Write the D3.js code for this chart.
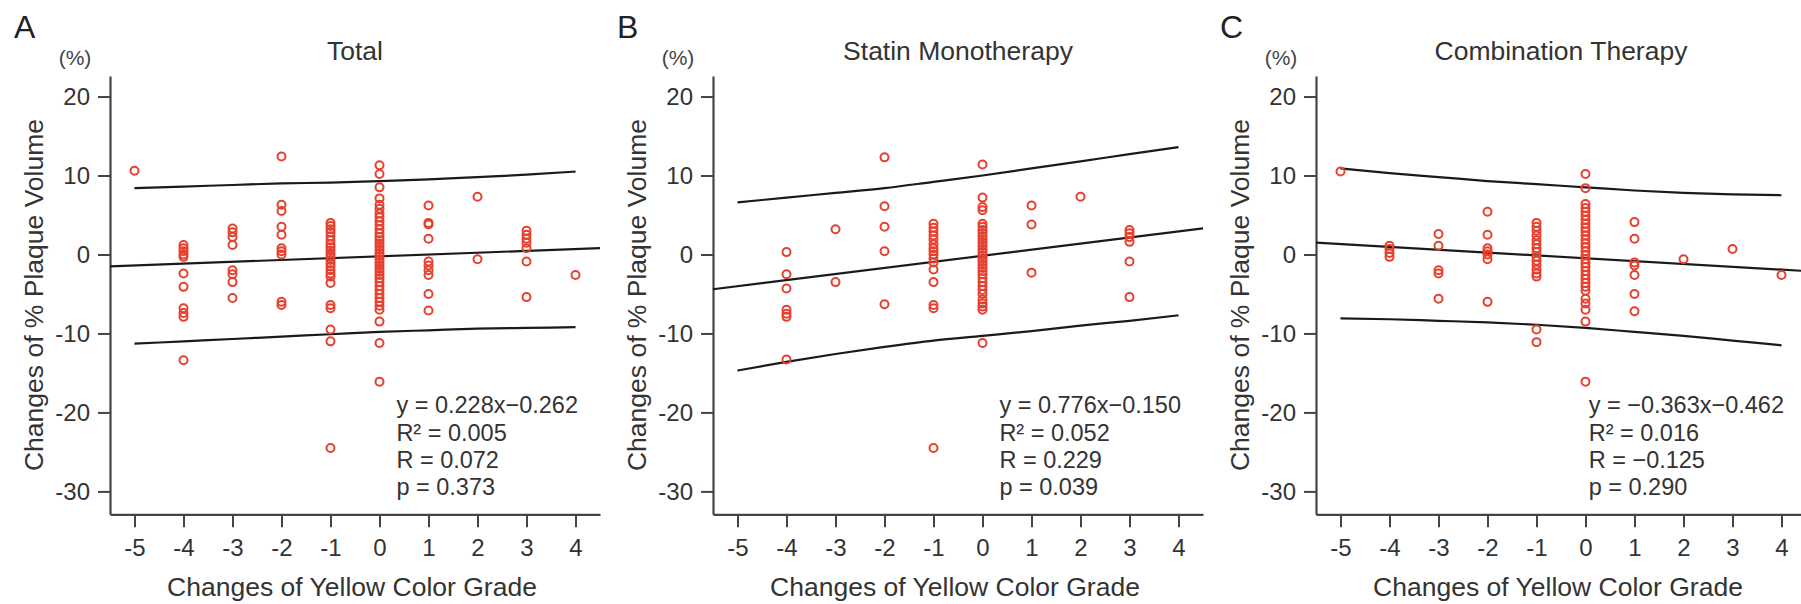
<!DOCTYPE html>
<html>
<head>
<meta charset="utf-8">
<script src="https://cdn.jsdelivr.net/npm/d3@7"></script>
<style>
  body { margin: 0; background: #fff; }
  svg { display: block; font-family: "Liberation Sans", Arial, sans-serif; }
</style>
</head>
<body>
<script>
/* DATA */
const letters = ["A", "B", "C"];
const titles = ["Total", "Statin Monotherapy", "Combination Therapy"];
const xTicks = [-5, -4, -3, -2, -1, 0, 1, 2, 3, 4];
const yTicks = [-30, -20, -10, 0, 10, 20];
const bandGrades = [-5, -4, -3, -2, -1, 0, 1, 2, 3, 4];

// [grade change, list of % plaque volume changes]
const totalPoints = [
  [-5, [10.6]],
  [-4, [1.2, 0.8, 0.4, 0.0, -0.3, -2.4, -4.1, -6.8, -7.4, -7.9, -13.4]],
  [-3, [3.3, 2.8, 2.2, 1.2, -2.0, -2.5, -3.5, -5.5]],
  [-2, [12.4, 6.3, 5.5, 3.5, 2.5, 0.8, 0.4, 0.0, -6.0, -6.4]],
  [-1, [4.0, 3.6, 3.2, 2.8, 2.3, 1.8, 1.3, 0.9, 0.5, 0.1, -0.3, -0.7, -1.1, -1.5, -2.0, -2.4, -2.8, -3.6, -6.4, -6.8, -9.5, -11.0, -24.5]],
  [0, [11.3, 10.2, 8.5, 7.1, 6.3, 5.8, 5.2, 4.7, 4.2, 3.7, 3.2, 2.7, 2.2, 1.8, 1.4, 1.0, 0.6, 0.2, -0.2, -0.6, -1.0, -1.4, -1.8, -2.2, -2.6, -3.0, -3.5, -4.0, -4.5, -5.0, -5.5, -6.0, -6.5, -7.0, -8.5, -11.2, -16.1]],
  [1, [6.2, 4.0, 3.8, 2.0, -0.9, -1.4, -2.0, -2.6, -5.0, -7.1]],
  [2, [7.3, -0.6]],
  [3, [3.0, 2.5, 2.0, 1.5, 0.8, -0.9, -5.4]],
  [4, [-2.6]]
];
const statinPoints = [
  [-4, [0.3, -2.5, -4.3, -7.0, -7.5, -7.9, -13.3]],
  [-3, [3.2, -3.5]],
  [-2, [12.3, 6.1, 3.5, 0.4, -6.3]],
  [-1, [3.9, 3.4, 2.9, 2.4, 1.9, 1.3, 0.8, 0.4, 0.0, -0.5, -1.0, -1.9, -3.5, -6.4, -6.8, -24.5]],
  [0, [11.4, 7.2, 6.0, 5.6, 3.9, 3.5, 3.1, 2.7, 2.3, 1.9, 1.5, 1.1, 0.7, 0.3, -0.1, -0.5, -0.9, -1.3, -1.7, -2.1, -2.5, -3.0, -3.5, -4.0, -4.5, -5.0, -5.7, -6.2, -6.6, -7.0, -11.2]],
  [1, [6.2, 3.8, -2.3]],
  [2, [7.3]],
  [3, [3.1, 2.7, 2.2, 1.6, -0.9, -5.4]]
];
const comboPoints = [
  [-5, [10.5]],
  [-4, [1.1, 0.7, 0.2, -0.3]],
  [-3, [2.6, 1.1, -2.0, -2.4, -5.6]],
  [-2, [5.4, 2.5, 0.8, 0.4, 0.0, -0.6, -6.0]],
  [-1, [4.0, 3.5, 3.0, 2.4, 1.8, 1.3, 0.8, 0.3, -0.3, -0.8, -1.3, -1.9, -2.4, -2.8, -9.5, -11.1]],
  [0, [10.2, 8.4, 6.4, 5.9, 5.4, 4.9, 4.4, 3.9, 3.4, 2.9, 2.4, 1.9, 1.4, 0.9, 0.4, -0.1, -0.6, -1.1, -1.6, -2.1, -2.6, -3.1, -3.6, -4.1, -4.6, -5.6, -6.2, -7.0, -8.5, -16.1]],
  [1, [4.1, 2.0, -1.0, -1.4, -2.6, -5.0, -7.2]],
  [2, [-0.6]],
  [3, [0.7]],
  [4, [-2.6]]
];

// regression line end points
const totalFit = [[-5.5, -1.5], [4.5, 0.8]];
const statinFit = [[-5.5, -4.4], [4.5, 3.3]];
const comboFit = [[-5.5, 1.5], [4.5, -2.1]];

// prediction band, one value per grade in bandGrades
const totalUpper = [8.4, 8.6, 8.8, 9.0, 9.1, 9.3, 9.5, 9.8, 10.1, 10.5];
const totalLower = [-11.3, -11.0, -10.7, -10.4, -10.1, -9.8, -9.6, -9.4, -9.3, -9.2];
const statinUpper = [6.6, 7.2, 7.8, 8.4, 9.2, 10.0, 10.9, 11.8, 12.7, 13.6];
const statinLower = [-14.7, -13.6, -12.6, -11.7, -10.9, -10.3, -9.7, -9.0, -8.4, -7.7];
const comboUpper = [10.9, 10.3, 9.8, 9.3, 8.9, 8.5, 8.1, 7.8, 7.6, 7.5];
const comboLower = [-8.1, -8.2, -8.4, -8.6, -8.9, -9.3, -9.8, -10.3, -10.9, -11.5];

const totalStats = ["y = 0.228x\u22120.262", "R\u00b2 = 0.005", "R = 0.072", "p = 0.373"];
const statinStats = ["y = 0.776x\u22120.150", "R\u00b2 = 0.052", "R = 0.229", "p = 0.039"];
const comboStats = ["y = \u22120.363x\u22120.462", "R\u00b2 = 0.016", "R = \u22120.125", "p = 0.290"];

/* LAYOUT */
const width = 1801, height = 604;
const panelStep = 603;
const textColor = "#333";
const axisColor = "#444";
const dotColor = "#e6402f";

const panels = [
  { points: totalPoints, fit: totalFit, upper: totalUpper, lower: totalLower, stats: totalStats },
  { points: statinPoints, fit: statinFit, upper: statinUpper, lower: statinLower, stats: statinStats },
  { points: comboPoints, fit: comboFit, upper: comboUpper, lower: comboLower, stats: comboStats }
];

const xScale = d3.scaleLinear().domain([-5.5, 4.5]).range([110, 600]);
const yScale = d3.scaleLinear().domain([-32.9, 22.6]).range([514.3, 76]);

const line = d3.line()
  .x(d => xScale(d[0]))
  .y(d => yScale(d[1]))
  .curve(d3.curveMonotoneX);

const svg = d3.select("body")
  .append("svg")
  .attr("width", width)
  .attr("height", height);

panels.forEach((p, i) => {
  const g = svg.append("g").attr("transform", `translate(${i * panelStep},0)`);

  // panel letter and title
  g.append("text")
    .attr("x", 14).attr("y", 38)
    .attr("font-size", 32)
    .attr("fill", "#222")
    .text(letters[i]);

  g.append("text")
    .attr("x", 75).attr("y", 65)
    .attr("text-anchor", "middle")
    .attr("font-size", 21)
    .attr("fill", "#444")
    .text("(%)");

  g.append("text")
    .attr("x", 355).attr("y", 60)
    .attr("text-anchor", "middle")
    .attr("font-size", 26.5)
    .attr("fill", textColor)
    .text(titles[i]);

  // axes (plain hyphen for negatives, as in the figure)
  const xAxis = d3.axisBottom(xScale).tickValues(xTicks).tickFormat(d => String(d))
    .tickSize(13).tickSizeOuter(0).tickPadding(12);
  const yAxis = d3.axisLeft(yScale).tickValues(yTicks).tickFormat(d => String(d))
    .tickSize(12).tickSizeOuter(0).tickPadding(8);

  const gx = g.append("g")
    .attr("transform", `translate(0,${yScale.range()[0]})`)
    .call(xAxis);
  const gy = g.append("g")
    .attr("transform", `translate(${xScale.range()[0]},0)`)
    .call(yAxis);

  [gx, gy].forEach(a => {
    a.select(".domain").attr("stroke", axisColor).attr("stroke-width", 2.2);
    a.selectAll(".tick line").attr("stroke", axisColor).attr("stroke-width", 2);
    a.selectAll(".tick text")
      .attr("fill", textColor)
      .attr("font-size", 24)
      .attr("font-family", "Liberation Sans, Arial, sans-serif");
  });

  // axis titles
  g.append("text")
    .attr("x", 352).attr("y", 596)
    .attr("text-anchor", "middle")
    .attr("font-size", 26.5)
    .attr("fill", textColor)
    .text("Changes of Yellow Color Grade");

  g.append("text")
    .attr("transform", "translate(43,295) rotate(-90)")
    .attr("text-anchor", "middle")
    .attr("font-size", 26.5)
    .attr("fill", textColor)
    .text("Changes of % Plaque Volume");

  // regression line and prediction band
  const bandUp = bandGrades.map((gr, k) => [gr, p.upper[k]]);
  const bandLo = bandGrades.map((gr, k) => [gr, p.lower[k]]);
  [p.fit, bandUp, bandLo].forEach(d => {
    g.append("path")
      .datum(d)
      .attr("d", line)
      .attr("fill", "none")
      .attr("stroke", "#1a1a1a")
      .attr("stroke-width", 2.2);
  });

  // points
  const flat = p.points.flatMap(([gr, vals]) => vals.map(v => ({ grade: gr, change: v })));
  g.selectAll(".dot")
    .data(flat)
    .join("circle")
    .attr("class", "dot")
    .attr("cx", d => xScale(d.grade))
    .attr("cy", d => yScale(d.change))
    .attr("r", 4)
    .attr("fill", "none")
    .attr("stroke", dotColor)
    .attr("stroke-width", 2);

  // stats block: first line right-aligned, the rest left-aligned to it
  const first = g.append("text")
    .attr("x", 578).attr("y", 413)
    .attr("text-anchor", "end")
    .attr("font-size", 23.5)
    .attr("fill", textColor)
    .text(p.stats[0]);
  const left = 578 - first.node().getComputedTextLength();
  first.attr("text-anchor", "start").attr("x", left);
  p.stats.slice(1).forEach((s, k) => {
    g.append("text")
      .attr("x", left).attr("y", 440.5 + k * 27.3)
      .attr("font-size", 23.5)
      .attr("fill", textColor)
      .text(s);
  });
});
</script>
</body>
</html>
